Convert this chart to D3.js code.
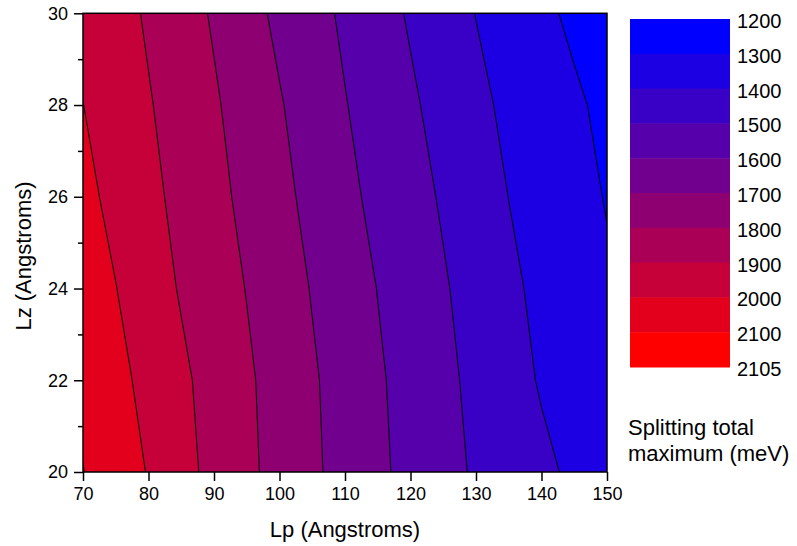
<!DOCTYPE html>
<html><head><meta charset="utf-8">
<script src="https://cdn.jsdelivr.net/npm/d3@7"></script>
<style>
body{margin:0;background:#fff}
svg text{font-family:Arial,"Liberation Sans",sans-serif;fill:#000}
</style>
</head><body>
<svg id="chart" width="797" height="546"></svg>
<script>
// ---- data ----
const lpValues = [70,75,80,85,90,95,100,105,110,115,120,125,130,135,140,145,150];
const lzValues = [20,22,24,26,28,30];
const splitLz20 = [2102,2049,1995,1931,1873,1820,1768,1716,1667,1618,1573,1530,1489,1454,1419,1384,1352];
const splitLz22 = [2082,2027,1973,1918,1865,1814,1763,1711,1661,1612,1566,1522,1478,1435,1392,1354,1316];
const splitLz24 = [2057,2002,1946,1892,1845,1797,1746,1695,1647,1598,1554,1509,1464,1419,1378,1345,1312];
const splitLz26 = [2025,1975,1924,1875,1827,1777,1726,1674,1623,1577,1534,1490,1444,1399,1364,1330,1295];
const splitLz28 = [2001,1953,1907,1859,1811,1760,1707,1656,1604,1559,1514,1468,1421,1382,1348,1314,1279];
const splitLz30 = [1985,1937,1888,1840,1790,1733,1680,1632,1585,1537,1490,1444,1398,1359,1320,1282,1245];
const levels = [1200,1300,1400,1500,1600,1700,1800,1900,2000,2100,2105];
const levelLabels = ["1200","1300","1400","1500","1600","1700","1800","1900","2000","2100","2105"];
const xTicks = [70,80,90,100,110,120,130,140,150];
const yTicks = [20,22,24,26,28,30];
const yMinorTicks = [21,23,25,27,29];
const xTitle = "Lp (Angstroms)";
const yTitle = "Lz (Angstroms)";
const legendTitle = ["Splitting total","maximum (meV)"];

// ---- layout ----
const svg = d3.select("#chart");
const x = d3.scaleLinear().domain([70,150]).range([83,607]);
const y = d3.scaleLinear().domain([20,30]).range([472,13.3]);
const nx = lpValues.length, ny = lzValues.length;
const ix = d3.scaleLinear().domain([0,nx-1]).range([lpValues[0],lpValues[nx-1]]);
const iy = d3.scaleLinear().domain([0,ny-1]).range([lzValues[0],lzValues[ny-1]]);

const grid = [].concat(splitLz20,splitLz22,splitLz24,splitLz26,splitLz28,splitLz30);
const thresholds = levels.slice(0,levels.length-1);
const nb = thresholds.length;
const bandColor = i => d3.rgb(Math.round(i*255/(nb-1)),0,255-Math.round(i*255/(nb-1))).toString();

const contours = d3.contours().size([nx,ny]).thresholds(thresholds)(grid);
const proj = d3.geoTransform({point(px,py){ this.stream.point(x(ix(px-0.5)), y(iy(py-0.5))); }});
const path = d3.geoPath(proj);

svg.append("clipPath").attr("id","plotclip").append("rect")
  .attr("x",x(70)).attr("y",y(30)).attr("width",x(150)-x(70)).attr("height",y(20)-y(30));

const gPlot = svg.append("g").attr("clip-path","url(#plotclip)");
gPlot.selectAll("path.fill").data(contours).join("path").attr("class","fill")
  .attr("d",path).attr("fill",(d,i)=>bandColor(i)).attr("stroke","none");
gPlot.selectAll("path.line").data(contours.slice(1)).join("path").attr("class","line")
  .attr("d",path).attr("fill","none").attr("stroke","#000").attr("stroke-width",1);

// frame
svg.append("rect").attr("x",x(70)).attr("y",y(30)).attr("width",x(150)-x(70)).attr("height",y(20)-y(30))
  .attr("fill","none").attr("stroke","#000").attr("stroke-width",1.5);

// axes
const ax = svg.append("g").attr("transform",`translate(0,${y(20)})`)
  .call(d3.axisBottom(x).tickValues(xTicks).tickSize(9).tickPadding(6).tickFormat(d3.format("d")));
const ay = svg.append("g").attr("transform",`translate(${x(70)},0)`)
  .call(d3.axisLeft(y).tickValues(yTicks).tickSize(9).tickPadding(6).tickFormat(d3.format("d")));
svg.append("g").attr("transform",`translate(${x(70)},0)`)
  .call(d3.axisLeft(y).tickValues(yMinorTicks).tickSize(5).tickFormat(""));
svg.selectAll(".domain").remove();
svg.selectAll(".tick line").attr("stroke","#000").attr("stroke-width",1.5);
svg.selectAll(".tick text").attr("font-size",18).attr("font-family","Arial, 'Liberation Sans', sans-serif").attr("fill","#000");

svg.append("text").attr("x",345).attr("y",537).attr("text-anchor","middle").attr("font-size",22).text(xTitle);
svg.append("text").attr("transform","translate(31,256) rotate(-90)").attr("text-anchor","middle").attr("font-size",22).text(yTitle);

// colour bar
const cb = d3.scalePoint().domain(levels).range([19,367]);
const cbg = svg.append("g");
cbg.selectAll("rect").data(thresholds).join("rect")
  .attr("x",630).attr("width",100)
  .attr("y",(d,i)=>cb(levels[i]))
  .attr("height",(d,i)=>cb(levels[i+1])-cb(levels[i])+0.5)
  .attr("fill",(d,i)=>bandColor(i));
cbg.selectAll("text").data(levels).join("text")
  .attr("x",737).attr("y",d=>cb(d)+2).attr("dy","0.35em")
  .attr("font-size",20).text((d,i)=>levelLabels[i]);

svg.append("text").attr("x",628).attr("y",435).attr("font-size",22).text(legendTitle[0]);
svg.append("text").attr("x",628).attr("y",461).attr("font-size",22).text(legendTitle[1]);
</script>
</body></html>
